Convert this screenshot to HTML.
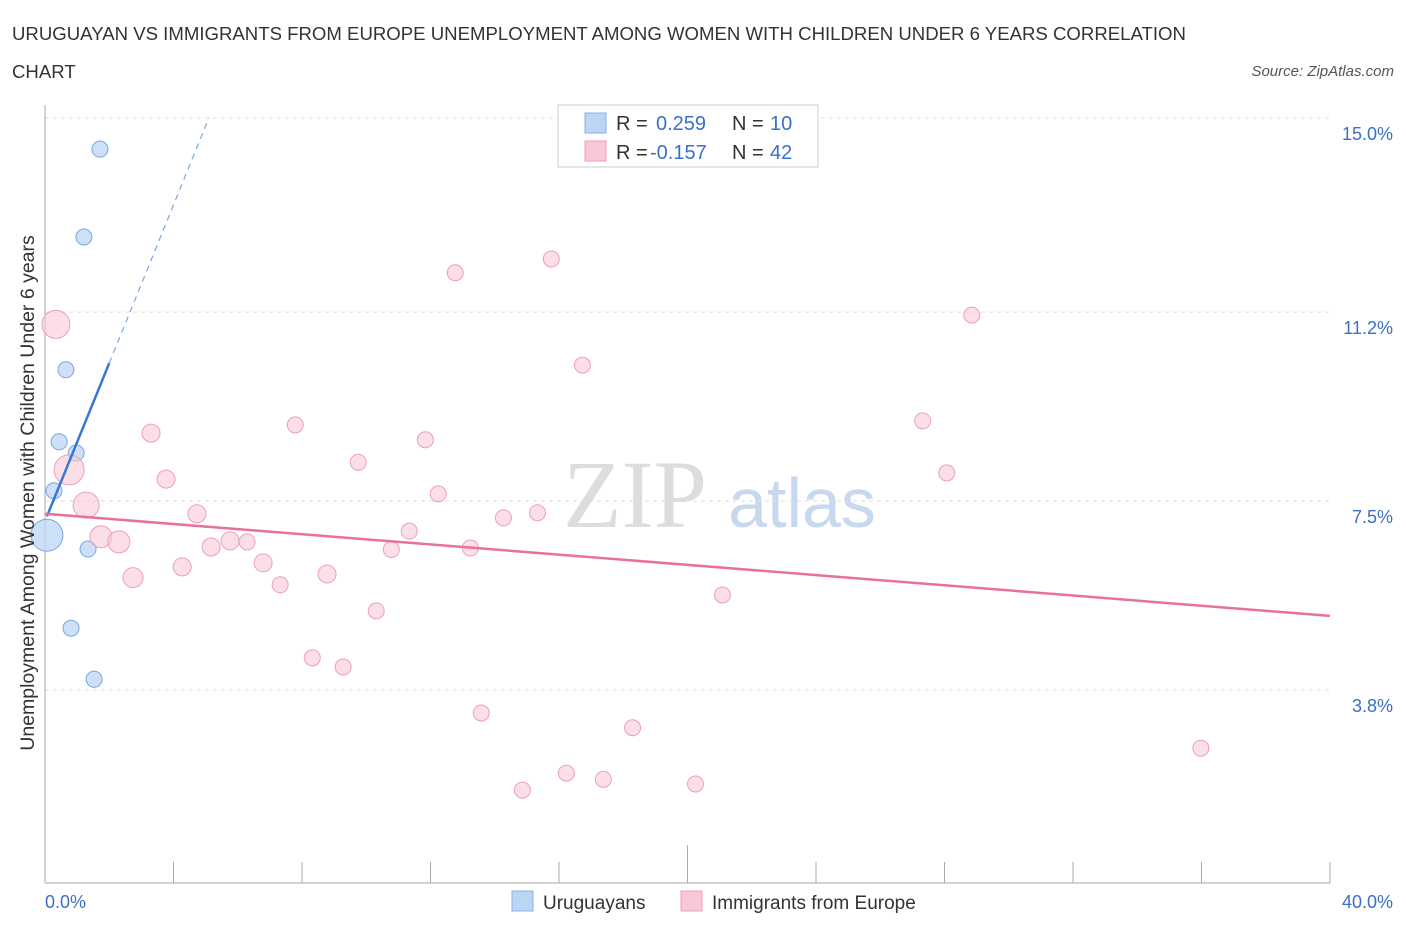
<!DOCTYPE html>
<html><head><meta charset="utf-8"><style>
body{margin:0;background:#fff;font-family:"Liberation Sans",sans-serif;}
</style></head><body>
<svg width="1406" height="930" xmlns="http://www.w3.org/2000/svg" font-family="Liberation Sans, sans-serif">
<text x="12" y="40" font-size="18.6" fill="#333">URUGUAYAN VS IMMIGRANTS FROM EUROPE UNEMPLOYMENT AMONG WOMEN WITH CHILDREN UNDER 6 YEARS CORRELATION</text>
<text x="12" y="78" font-size="18.6" fill="#333">CHART</text>
<text x="1394" y="76" font-size="15" fill="#555" font-style="italic" text-anchor="end">Source: ZipAtlas.com</text>
<text x="635" y="527" font-size="96" fill="#ddd" font-family="Liberation Serif, serif" text-anchor="middle">ZIP</text>
<text x="802" y="527" font-size="70" fill="#c8d8ee" text-anchor="middle">atlas</text>
<g id="grid"></g>
<g id="axes"></g>
<g id="marks"></g>
<text x="34" y="493" font-size="19.5" fill="#333" text-anchor="middle" transform="rotate(-90 34 493)">Unemployment Among Women with Children Under 6 years</text>
<text x="45" y="908" font-size="18" fill="#3a70c8">0.0%</text>
<text x="1393" y="908" font-size="18" fill="#3a70c8" text-anchor="end">40.0%</text>
<g>
<rect x="558" y="105" width="260" height="62" fill="#fff" stroke="#ccc"/>
<rect x="585" y="113" width="21" height="20" fill="#bcd5f5" stroke="#8ab0e6"/>
<rect x="585" y="141" width="21" height="20" fill="#f9c8d6" stroke="#eca0b8"/>
<text x="616" y="130" font-size="20" fill="#333">R =</text>
<text x="656" y="130" font-size="20" fill="#3a70c8">0.259</text>
<text x="732" y="130" font-size="20" fill="#333">N =</text>
<text x="770" y="130" font-size="20" fill="#3a70c8">10</text>
<text x="616" y="159" font-size="20" fill="#333">R =</text>
<text x="650" y="159" font-size="20" fill="#3a70c8">-0.157</text>
<text x="732" y="159" font-size="20" fill="#333">N =</text>
<text x="770" y="159" font-size="20" fill="#3a70c8">42</text>
</g>
<g>
<rect x="512" y="891" width="21" height="20" fill="#bcd5f5" stroke="#8ab0e6"/>
<text x="543" y="909" font-size="19" fill="#333">Uruguayans</text>
<rect x="681" y="891" width="21" height="20" fill="#f9c8d6" stroke="#eca0b8"/>
<text x="712" y="909" font-size="19" fill="#333">Immigrants from Europe</text>
</g>
</svg>
<script>
const yTicks=[15.0,11.2,7.5,3.8];
const yTickLabels=["15.0%","11.2%","7.5%","3.8%"];
const xTicks=[0,4,8,12,16,20,24,28,32,36,40];
const uruX=[1.71,1.21,0.65,0.44,0.97,0.28,0.06,1.34,0.81,1.53];
const uruY=[14.39,12.67,10.07,8.66,8.44,7.70,6.83,6.56,5.01,4.01];
const uruR=[8,8,8,8,8,8,16,8,8,8];
const immX=[0.34,0.75,1.28,1.74,2.3,3.3,3.77,2.74,4.27,4.73,5.17,5.76,6.29,6.79,7.32,7.79,8.78,8.32,9.28,9.75,10.31,10.78,11.34,11.84,12.24,12.77,13.24,13.58,14.27,14.86,15.33,15.76,16.23,16.73,17.38,18.29,20.25,21.09,27.32,28.07,28.85,35.98];
const immY=[10.96,8.11,7.42,6.80,6.70,8.83,7.93,6.0,6.21,7.25,6.60,6.72,6.70,6.29,5.86,8.99,6.07,4.43,4.25,8.26,5.35,6.55,6.91,8.70,7.64,11.97,6.58,3.35,7.17,1.84,7.27,12.24,2.17,10.16,2.05,3.06,1.96,5.66,9.07,8.05,11.14,2.66];
const immR=[14,15,13,11,11,9,9,10,9,9,9,9,8,9,8,8,9,8,8,8,8,8,8,8,8,8,8,8,8,8,8,8,8,8,8,8,8,8,8,8,8,8];
const uruTrend=[0.06,7.2,2.0,10.2,5.1,15.0];
const immTrend=[0,7.25,40,5.25];
const X=v=>45+v*32.125, Y=v=>118+(15-v)*51.07;
const NS="http://www.w3.org/2000/svg";
function mk(t,a,p){const e=document.createElementNS(NS,t);for(const k in a)e.setAttribute(k,a[k]);p.appendChild(e);return e;}
const grid=document.getElementById('grid'),axes=document.getElementById('axes'),marks=document.getElementById('marks');
yTicks.forEach((v,i)=>{
 const l=mk('line',{x1:45,x2:1330,y1:Y(v),y2:Y(v),stroke:'#ddd','stroke-dasharray':'4,4'},grid);
 
 
 const t=mk('text',{x:1393,y:Y(v)+22,'font-size':18,fill:'#3a70c8','text-anchor':'end'},axes);
 t.textContent=yTickLabels[i];
 
 
});
const ya=mk('line',{x1:45,x2:45,y1:105,y2:883,stroke:'#aaa'},axes);


const xa=mk('line',{x1:45,x2:1330,y1:883,y2:883,stroke:'#aaa'},axes);


xTicks.forEach(v=>{
 const t=mk('line',{x1:X(v),x2:X(v),y1:v==20?845:862,y2:883,stroke:'#aaa'},axes);
 
 
});
uruX.forEach((v,i)=>{
 const c=mk('circle',{cx:X(v),cy:Y(uruY[i]),r:uruR[i],fill:'#bcd5f5','fill-opacity':0.75,stroke:'#7aa6e0','stroke-width':1},marks);
 
 
});
immX.forEach((v,i)=>{
 const c=mk('circle',{cx:X(v),cy:Y(immY[i]),r:immR[i],fill:'#f9c8d6','fill-opacity':0.6,stroke:'#eca0b8','stroke-width':1},marks);
 
 
});
const u1=mk('line',{x1:X(uruTrend[0]),y1:Y(uruTrend[1]),x2:X(uruTrend[2]),y2:Y(uruTrend[3]),stroke:'#3a75d8','stroke-width':2.5},marks);


const u2=mk('line',{x1:X(uruTrend[2]),y1:Y(uruTrend[3]),x2:X(uruTrend[4]),y2:Y(uruTrend[5]),stroke:'#7aa6e0','stroke-width':1.2,'stroke-dasharray':'6,5'},marks);


const p1=mk('line',{x1:X(immTrend[0]),y1:Y(immTrend[1]),x2:X(immTrend[2]),y2:Y(immTrend[3]),stroke:'#e8709a','stroke-width':2.5},marks);


</script>
</body></html>
